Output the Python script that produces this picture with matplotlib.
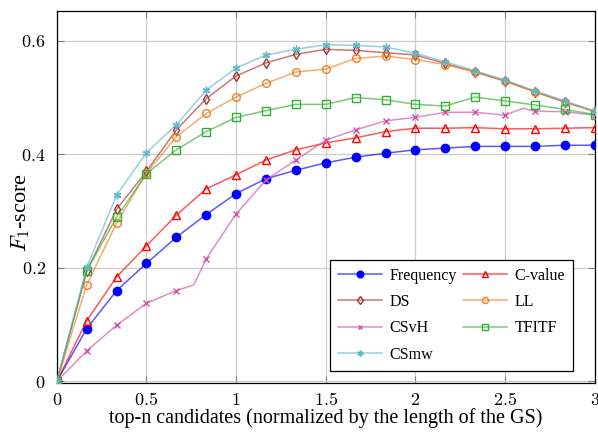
import numpy as np
import matplotlib
matplotlib.use("Agg")
import matplotlib.pyplot as plt

plt.rcParams['font.family'] = ['Liberation Serif', 'DejaVu Serif']
plt.rcParams['mathtext.fontset'] = 'cm'

# x positions of the marks (multiples of 1/6)
x = [k / 6 for k in range(19)]

freq = [0.0, 0.093, 0.160, 0.208, 0.254, 0.294, 0.331, 0.357, 0.372, 0.385,
        0.395, 0.402, 0.408, 0.411, 0.414, 0.414, 0.414, 0.416, 0.416]
cvalue = [0.0, 0.107, 0.184, 0.239, 0.293, 0.339, 0.364, 0.390, 0.408, 0.420,
          0.429, 0.440, 0.446, 0.446, 0.447, 0.445, 0.445, 0.446, 0.447]
ds = [0.0, 0.194, 0.303, 0.370, 0.443, 0.498, 0.538, 0.561, 0.576, 0.585,
      0.583, 0.579, 0.575, 0.560, 0.545, 0.529, 0.510, 0.492, 0.476]
ll = [0.0, 0.170, 0.279, 0.367, 0.431, 0.472, 0.501, 0.525, 0.545, 0.550,
      0.569, 0.573, 0.567, 0.558, 0.545, 0.529, 0.510, 0.492, 0.475]
tfitf = [0.0, 0.195, 0.289, 0.366, 0.408, 0.440, 0.465, 0.477, 0.488, 0.488,
         0.500, 0.496, 0.488, 0.485, 0.501, 0.494, 0.487, 0.479, 0.470]
csmw = [0.0, 0.201, 0.328, 0.403, 0.452, 0.513, 0.552, 0.575, 0.585, 0.593,
        0.592, 0.589, 0.578, 0.563, 0.547, 0.531, 0.512, 0.494, 0.476]

# CSvH has a couple of extra points between marks
x_csvh = [0, 1/6, 2/6, 3/6, 4/6, 0.764, 5/6, 1.0, 7/6, 8/6, 9/6, 10/6, 11/6,
          2.0, 13/6, 14/6, 15/6, 2.60, 16/6, 17/6, 3.0]
csvh = [0.0, 0.054, 0.099, 0.138, 0.160, 0.170, 0.216, 0.295, 0.355, 0.390,
        0.425, 0.443, 0.459, 0.465, 0.474, 0.474, 0.469, 0.481, 0.476, 0.475, 0.469]
csvh_marks = [i for i in range(len(x_csvh)) if i not in (5, 17)]


def rgba(c, a):
    c = matplotlib.colors.to_rgb(c)
    return (c[0], c[1], c[2], a)


fig = plt.figure(figsize=(5.98, 4.32), dpi=100)
ax = fig.add_axes([0.095, 0.113, 0.8995, 0.861])

la = 0.65
h = {}
h['Frequency'], = ax.plot(x, freq, color=rgba('#0000ff', la), marker='o', ms=6, mfc='#0000ff',
                          mec='#0000ff', lw=1.1, label='Frequency', zorder=3)
h['C-value'], = ax.plot(x, cvalue, color=rgba('#ff0000', la), marker='^', ms=5.5, mfc='none',
                        mec='#ff0000', mew=1.0, lw=1.1, label='C-value', zorder=3)
h['DS'], = ax.plot(x, ds, color=rgba('#a83232', la), marker='d', ms=5.5, mfc='none', mec='#a83232',
                   mew=1.0, lw=1.1, label='DS', zorder=3)
h['LL'], = ax.plot(x, ll, color=rgba('#f08020', la), marker='o', ms=5.5, mfc='none', mec='#f08020',
                   mew=1.0, lw=1.1, label='LL', zorder=3)
h['CSvH'], = ax.plot(x_csvh, csvh, color=rgba('#d050a8', la), marker='x', ms=4, mec='#d050a8',
                     mew=1.0, lw=1.1, markevery=csvh_marks, label='CSvH', zorder=3)
h['TFITF'], = ax.plot(x, tfitf, color=rgba('#30b030', la), marker='s', ms=5.5, mfc='none',
                      mec='#30b030', mew=1.0, lw=1.1, label='TFITF', zorder=3)
h['CSmw'], = ax.plot(x, csmw, color=rgba('#60b8c8', la), marker=(6, 2, 0), ms=5.5, mec='#60b8c8',
                     mew=1.0, lw=1.1, label='CSmw', zorder=3)

ax.set_xlim(0, 3)
ax.set_ylim(-0.003, 0.652)
ax.set_xticks([0, 0.5, 1, 1.5, 2, 2.5, 3])
ax.set_xticklabels(['$0$', '$0.5$', '$1$', '$1.5$', '$2$', '$2.5$', '$3$'])
ax.set_yticks([0, 0.2, 0.4, 0.6])
ax.set_yticklabels(['$0$', '$0.2$', '$0.4$', '$0.6$'])
ax.tick_params(direction='in', length=5, width=0.8, color='#808080', labelsize=13,
               top=True, right=True)
ax.tick_params(axis='y', pad=8)
ax.tick_params(axis='x', pad=6)
ax.grid(True, color='#cccccc', lw=0.9, zorder=0)
for s in ax.spines.values():
    s.set_linewidth(0.9)

ax.set_xlabel('top-n candidates (normalized by the length of the GS)', fontsize=14.5, labelpad=0)
ax.set_ylabel('$F_1$-score', fontsize=16)
ax.yaxis.set_label_coords(-0.047, 0.46)

# pgfplots fills the legend row by row
order = ['Frequency', 'DS', 'CSvH', 'CSmw', 'C-value', 'LL', 'TFITF']
leg = ax.legend([h[k] for k in order], order, ncol=2, loc='lower right', fontsize=11.5,
                frameon=True, fancybox=False, edgecolor='black', framealpha=1, borderpad=0.5,
                handlelength=2.75, columnspacing=0.4, labelspacing=0.65, handletextpad=0.45,
                markerscale=0.8, bbox_to_anchor=(0.974, 0.012))
leg.get_frame().set_linewidth(0.9)

fig.savefig('out.png', dpi=100)
